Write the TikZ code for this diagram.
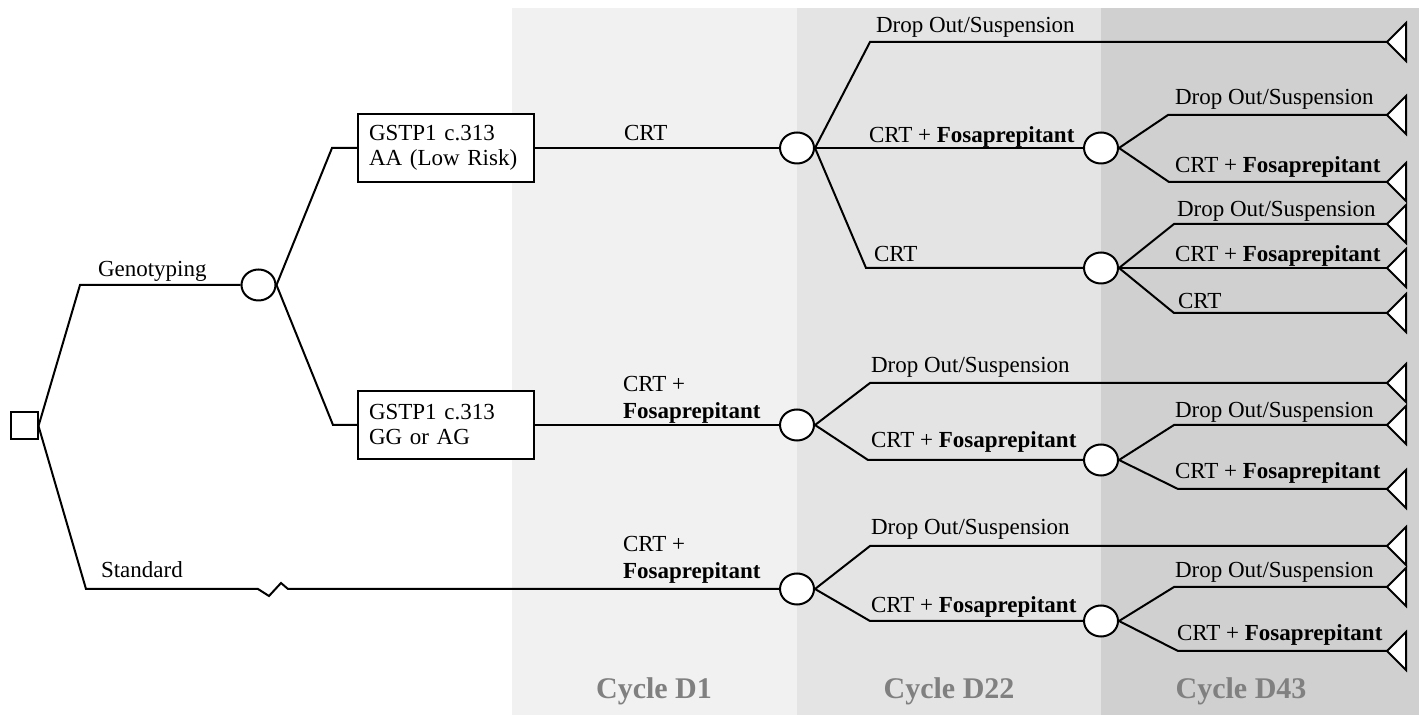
\documentclass[tikz,border=0pt]{standalone}
\usepackage{fontspec}
\setmainfont{Liberation Serif}
\usetikzlibrary{shapes.geometric}
\definecolor{pone}{HTML}{F1F1F1}
\definecolor{ptwo}{HTML}{E4E4E4}
\definecolor{pthree}{HTML}{D0D0D0}
\definecolor{cycgray}{HTML}{808080}
\tikzset{
  chance/.style={ellipse, draw, fill=white, inner sep=0pt, minimum width=17pt, minimum height=15.5pt},
  decsq/.style={rectangle, draw, fill=white, inner sep=0pt, minimum size=13.5pt},
  gbox/.style={rectangle, draw, fill=white, align=left, text width=77pt, inner xsep=5.5pt, inner ysep=0pt,
    minimum height=34pt, font=\fontsize{11.5}{12.5}\selectfont},
  lbl/.style={anchor=base west, inner sep=0pt, font=\fontsize{11.5}{13.5}\selectfont},
  lbltwo/.style={anchor=north west, inner sep=0pt, align=left, font=\fontsize{11.5}{13.5}\selectfont},
  cyc/.style={anchor=base, inner sep=0pt, text=cycgray, font=\bfseries\fontsize{15}{18}\selectfont},
  term/.pic={\draw[fill=white, line width=1pt] (0,0) -- (19,-19) -- (19,19) -- cycle;}
}
\begin{document}
\begin{tikzpicture}[x=0.5pt, y=-0.5pt, line width=1pt]
\useasboundingbox (0,0) rectangle (1419,715);
% background panels
\fill[pone] (512,8) rectangle (797,715);
\fill[ptwo] (797,8) rectangle (1101,715);
\fill[pthree] (1101,8) rectangle (1419,715);
\node[cyc] (cy1) at (654,698) {Cycle D1};
\node[cyc] (cy2) at (949,698) {Cycle D22};
\node[cyc] (cy3) at (1241,698) {Cycle D43};

% nodes
\node[decsq] (root) at (24,426) {};
\node[chance] (gen) at (258.5,285) {};
\node[gbox] (b1) at (446,148) {GSTP1 c.313\\AA (Low Risk)};
\node[gbox] (b2) at (446,425) {GSTP1 c.313\\GG or AG};
\node[chance] (c1) at (797,148) {};
\node[chance] (c2) at (1101,148) {};
\node[chance] (c3) at (1101,268) {};
\node[chance] (c4) at (797,425) {};
\node[chance] (c5) at (1101,460) {};
\node[chance] (c6) at (797,589) {};
\node[chance] (c7) at (1101,621) {};

% corner coordinates
\coordinate (r1) at (80,285);
\coordinate (r2) at (86,589);
\coordinate (z1) at (258,589);
\coordinate (z2) at (269,596);
\coordinate (z3) at (281,583);
\coordinate (z4) at (288,589);
\coordinate (g1) at (332,148);
\coordinate (g2) at (333,425);
\coordinate (k1) at (870,42);
\coordinate (k3) at (866,268);
\coordinate (k4) at (870,383);
\coordinate (k5) at (868,460);
\coordinate (k6) at (870,546);
\coordinate (k7) at (870,621);
\coordinate (m1) at (1168,115);
\coordinate (m2) at (1169,182);
\coordinate (m3) at (1174,224);
\coordinate (m4) at (1174,313);
\coordinate (m5) at (1174,425);
\coordinate (m6) at (1178,489);
\coordinate (m7) at (1174,587);
\coordinate (m8) at (1178,651);
% terminal points
\coordinate (t1) at (1387,42);
\coordinate (t2) at (1387,115);
\coordinate (t3) at (1387,182);
\coordinate (t4) at (1387,224);
\coordinate (t5) at (1387,268);
\coordinate (t6) at (1387,313);
\coordinate (t7) at (1387,383);
\coordinate (t8) at (1387,425);
\coordinate (t9) at (1387,489);
\coordinate (t10) at (1387,546);
\coordinate (t11) at (1387,587);
\coordinate (t12) at (1387,651);

% connectors
\draw (root.east) -- (r1) -- (gen.west);
\draw (root.east) -- (r2) -- (z1) -- (z2) -- (z3) -- (z4) -- (c6.west);
\draw (gen.east) -- (g1) -- (b1.west);
\draw (gen.east) -- (g2) -- (b2.west);
\draw (b1.east) -- (c1.west);
\draw (b2.east) -- (c4.west);
\draw (c1.east) -- (k1) -- (t1);
\draw (c1.east) -- (c2.west);
\draw (c1.east) -- (k3) -- (c3.west);
\draw (c2.east) -- (m1) -- (t2);
\draw (c2.east) -- (m2) -- (t3);
\draw (c3.east) -- (m3) -- (t4);
\draw (c3.east) -- (t5);
\draw (c3.east) -- (m4) -- (t6);
\draw (c4.east) -- (k4) -- (t7);
\draw (c4.east) -- (k5) -- (c5.west);
\draw (c5.east) -- (m5) -- (t8);
\draw (c5.east) -- (m6) -- (t9);
\draw (c6.east) -- (k6) -- (t10);
\draw (c6.east) -- (k7) -- (c7.west);
\draw (c7.east) -- (m7) -- (t11);
\draw (c7.east) -- (m8) -- (t12);

% terminal triangles
\foreach \t in {t1,t2,t3,t4,t5,t6,t7,t8,t9,t10,t11,t12} { \pic at (\t) {term}; }

% labels
\node[lbl] (lgen) at (97,277) {Genotyping};
\node[lbl] (lstd) at (100,578) {Standard};
\node[lbl] (lb1) at (623,141) {CRT};
\node[lbltwo] (lb2) at (622,375) {CRT +\\\textbf{Fosaprepitant}};
\node[lbltwo] (lb3) at (622,535) {CRT +\\\textbf{Fosaprepitant}};
\node[lbl] (l11) at (875,33) {Drop Out/Suspension};
\node[lbl] (l12) at (868,143) {CRT + \textbf{Fosaprepitant}};
\node[lbl] (l13) at (873,262) {CRT};
\node[lbl] (l21) at (1174,105) {Drop Out/Suspension};
\node[lbl] (l22) at (1174,173) {CRT + \textbf{Fosaprepitant}};
\node[lbl] (l31) at (1176,217) {Drop Out/Suspension};
\node[lbl] (l32) at (1174,262) {CRT + \textbf{Fosaprepitant}};
\node[lbl] (l33) at (1177,309) {CRT};
\node[lbl] (l41) at (870,373) {Drop Out/Suspension};
\node[lbl] (l42) at (870,448) {CRT + \textbf{Fosaprepitant}};
\node[lbl] (l51) at (1174,418) {Drop Out/Suspension};
\node[lbl] (l52) at (1174,479) {CRT + \textbf{Fosaprepitant}};
\node[lbl] (l61) at (870,535) {Drop Out/Suspension};
\node[lbl] (l62) at (870,613) {CRT + \textbf{Fosaprepitant}};
\node[lbl] (l71) at (1174,578) {Drop Out/Suspension};
\node[lbl] (l72) at (1176,640) {CRT + \textbf{Fosaprepitant}};
\end{tikzpicture}
\end{document}
